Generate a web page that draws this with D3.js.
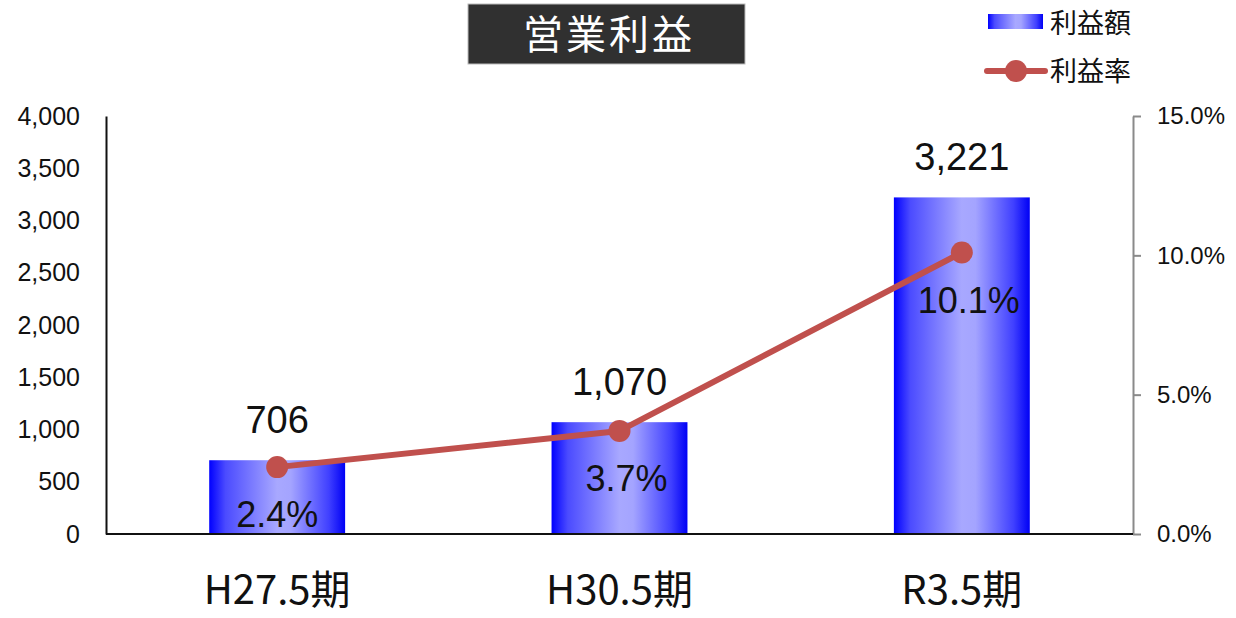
<!DOCTYPE html>
<html>
<head>
<meta charset="utf-8">
<script src="https://cdn.jsdelivr.net/npm/d3@7/dist/d3.min.js"></script>
<style>
  html, body { margin: 0; padding: 0; background: #fff; }
  svg { display: block; }
  text { font-family: "Liberation Sans", "Noto Sans CJK JP", sans-serif; fill: #111; }
  .cjk { font-family: "Noto Sans CJK JP", "Liberation Sans", sans-serif; }
</style>
</head>
<body>
<svg id="chart" width="1236" height="618"></svg>
<script>
// Operating profit (million yen) and profit margin by fiscal period
const categories = ["H27.5期", "H30.5期", "R3.5期"];
const profitValues = [706, 1070, 3221];
const marginValues = [2.4, 3.7, 10.1];
const leftTicks = [0, 500, 1000, 1500, 2000, 2500, 3000, 3500, 4000];
const rightTicks = [0, 5, 10, 15];
const titleText = "営業利益";
const legendLabels = ["利益額", "利益率"];

const svg = d3.select("#chart");
const plot = { left: 106, right: 1133, top: 116, bottom: 534 };

const x = d3.scaleBand()
  .domain(categories)
  .range([plot.left, plot.right])
  .paddingInner(0.603)
  .paddingOuter(0.3015);

const yL = d3.scaleLinear().domain([0, 4000]).range([plot.bottom, plot.top]);
const yR = d3.scaleLinear().domain([0, 15]).range([plot.bottom, plot.top]);

// Horizontal bar shading: saturated blue edges, pale centre
const defs = svg.append("defs");
const grad = defs.append("linearGradient").attr("id", "barGrad")
  .attr("x1", "0%").attr("x2", "100%").attr("y1", "0%").attr("y2", "0%");
[["0%", "#0000ff"], ["12%", "#4b4bff"], ["50%", "#a8a8ff"], ["60%", "#a4a4ff"], ["88%", "#4040ff"], ["100%", "#0000f5"]]
  .forEach(([o, c]) => grad.append("stop").attr("offset", o).attr("stop-color", c));

// Bars
svg.append("g").selectAll("rect").data(categories).join("rect")
  .attr("x", d => x(d))
  .attr("y", (d, i) => yL(profitValues[i]))
  .attr("width", x.bandwidth())
  .attr("height", (d, i) => yL(0) - yL(profitValues[i]))
  .attr("fill", "url(#barGrad)");

// Left axis (no tick marks)
const leftAxis = svg.append("g").attr("transform", `translate(${plot.left},0)`)
  .call(d3.axisLeft(yL).tickValues(leftTicks).tickSize(0).tickPadding(26).tickFormat(d3.format(",")));
leftAxis.select(".domain").attr("stroke", "#111").attr("stroke-width", 2);
leftAxis.selectAll("text").attr("font-size", 25).attr("fill", "#111")
  .attr("font-family", "Liberation Sans, sans-serif");

// Right axis
const rightAxis = svg.append("g").attr("transform", `translate(${plot.right},0)`)
  .call(d3.axisRight(yR).tickValues(rightTicks).tickSizeInner(8).tickSizeOuter(0).tickPadding(16)
    .tickFormat(d => d3.format(".1f")(d) + "%"));
rightAxis.select(".domain").attr("stroke", "#8a8a8a").attr("stroke-width", 2);
rightAxis.selectAll(".tick line").attr("stroke", "#8a8a8a").attr("stroke-width", 2);
rightAxis.selectAll("text").attr("font-size", 24).attr("fill", "#111")
  .attr("font-family", "Liberation Sans, sans-serif");

// Baseline
svg.append("line")
  .attr("x1", plot.left).attr("x2", plot.right)
  .attr("y1", yL(0)).attr("y2", yL(0))
  .attr("stroke", "#111").attr("stroke-width", 2);

// Category labels
svg.append("g").selectAll("text").data(categories).join("text")
  .attr("class", "cjk")
  .attr("x", d => x(d) + x.bandwidth() / 2)
  .attr("y", 604)
  .attr("text-anchor", "middle")
  .attr("font-size", 40)
  .text(d => d);

// Value labels above bars
svg.append("g").selectAll("text").data(categories).join("text")
  .attr("x", d => x(d) + x.bandwidth() / 2)
  .attr("y", (d, i) => yL(profitValues[i]) - 27)
  .attr("text-anchor", "middle")
  .attr("font-size", 38)
  .text((d, i) => d3.format(",")(profitValues[i]));

// Margin line and markers
const cx = d => x(d) + x.bandwidth() / 2;
svg.append("path")
  .datum(categories)
  .attr("fill", "none")
  .attr("stroke", "#c0504d")
  .attr("stroke-width", 6)
  .attr("stroke-linejoin", "round")
  .attr("d", d3.line().x(d => cx(d)).y((d, i) => yR(marginValues[i])));

svg.append("g").selectAll("circle").data(categories).join("circle")
  .attr("cx", d => cx(d))
  .attr("cy", (d, i) => yR(marginValues[i]))
  .attr("r", 11)
  .attr("fill", "#c0504d");

// Margin labels below the markers
svg.append("g").selectAll("text").data(categories).join("text")
  .attr("x", (d, i) => cx(d) + (i === 0 ? 0 : 7))
  .attr("y", (d, i) => yR(marginValues[i]) + 60)
  .attr("text-anchor", "middle")
  .attr("font-size", 36)
  .text((d, i) => d3.format(".1f")(marginValues[i]) + "%");

// Title box
const title = svg.append("g");
title.append("rect")
  .attr("x", 468).attr("y", 4).attr("width", 277).attr("height", 60)
  .attr("fill", "#303030").attr("stroke", "#bbb").attr("stroke-width", 1);
title.append("text")
  .attr("class", "cjk")
  .attr("x", 609).attr("y", 49)
  .attr("text-anchor", "middle")
  .attr("font-size", 40)
  .attr("letter-spacing", 3)
  .style("fill", "#fff")
  .text(titleText);

// Legend
const legend = svg.append("g");
legend.append("rect")
  .attr("x", 988).attr("y", 14).attr("width", 55).attr("height", 15)
  .attr("fill", "url(#barGrad)");
legend.append("line")
  .attr("x1", 987).attr("x2", 1045).attr("y1", 71).attr("y2", 71)
  .attr("stroke", "#c0504d").attr("stroke-width", 6).attr("stroke-linecap", "round");
legend.append("circle").attr("cx", 1016).attr("cy", 71).attr("r", 11).attr("fill", "#c0504d");
legend.selectAll("text.lg").data(legendLabels).join("text")
  .attr("class", "cjk lg")
  .attr("x", 1050)
  .attr("y", (d, i) => 33 + i * 48)
  .attr("font-size", 27)
  .text(d => d);
</script>
</body>
</html>
